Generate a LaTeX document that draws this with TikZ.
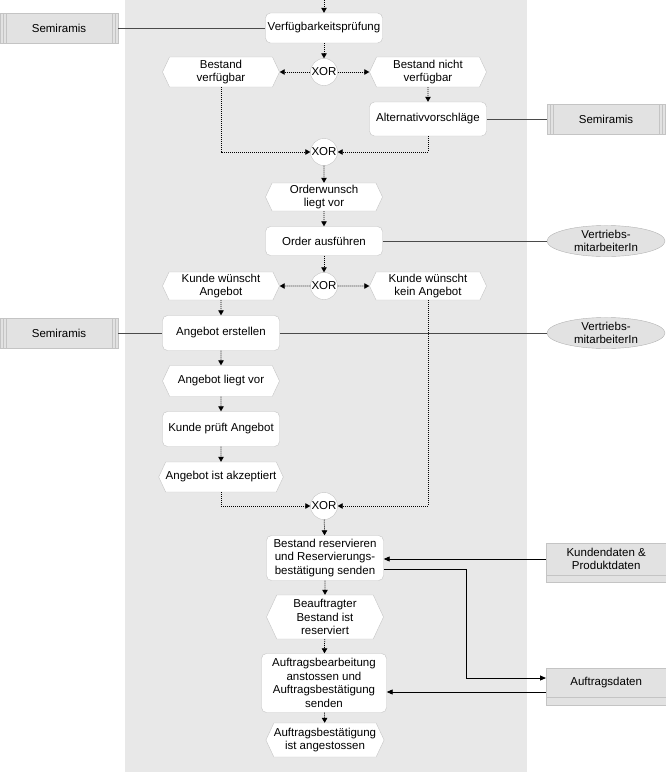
\documentclass[tikz,border=0pt]{standalone}
\usepackage{fontspec}
\setmainfont{Liberation Sans}
\usetikzlibrary{arrows.meta,positioning,shapes.geometric,shapes.symbols}
\definecolor{pane}{HTML}{E8E8E8}
\definecolor{boxline}{HTML}{C4C4C4}
\definecolor{sysfill}{HTML}{E2E2E2}
\definecolor{link}{HTML}{4A4A4A}

\begin{document}
\begin{tikzpicture}[x=1pt,y=-1pt,
  font=\fontsize{11.5}{13.5}\selectfont,
  fn/.style={draw=boxline,fill=white,rounded corners=5pt,align=center,
             minimum width=117pt,inner sep=1pt},
  ev/.style={signal,signal to=west and east,signal pointer angle=130,
             draw=boxline,fill=white,align=center,minimum width=117pt,
             inner xsep=0pt,inner ysep=1pt},
  xor/.style={circle,draw=boxline,fill=white,minimum size=27pt,inner sep=0pt},
  sys/.style={draw=boxline,fill=sysfill,minimum width=118pt,minimum height=30pt,
              path picture={
                \foreach \d in {3,6}{
                  \draw[boxline] ([xshift=\d pt]path picture bounding box.north west)
                    -- ([xshift=\d pt]path picture bounding box.south west);
                  \draw[boxline] ([xshift=-\d pt]path picture bounding box.north east)
                    -- ([xshift=-\d pt]path picture bounding box.south east);}}},
  org/.style={ellipse,draw=gray!60,fill=sysfill,minimum width=118pt,
              minimum height=30pt,inner sep=0pt,align=center},
  dat/.style={draw=boxline,fill=sysfill,minimum width=120pt,anchor=west,align=center},
  band/.style={draw=boxline,fill=sysfill},
  cf/.style={-{Triangle[length=5pt,width=5.5pt]},line width=0.75pt,
             dash pattern=on 1pt off 1pt},
  ln/.style={link,line width=0.8pt},
  df/.style={-{Triangle[length=6pt,width=5pt]},black,line width=0.9pt}]
  \useasboundingbox (0,0) rectangle (665,772);
  \fill[pane] (125,0) rectangle (527,772);
  % process chain
  \coordinate (start) at (324,0);
  \node[fn,minimum height=30pt] (vp) at (324,28) {Verfügbarkeitsprüfung};
  \node[xor] (x1) at (324,72) {XOR};
  \node[ev,minimum height=30pt] (bv) at (221,72) {Bestand\\verfügbar};
  \node[ev,minimum height=30pt] (bnv) at (428,72) {Bestand nicht\\verfügbar};
  \node[fn,minimum height=34pt] (alt) at (428,119) {Alternativvorschläge};
  \node[xor] (x2) at (324,152) {XOR};
  \node[ev,minimum height=28pt] (ow) at (324,197) {Orderwunsch\\liegt vor};
  \node[fn,minimum height=29pt] (oa) at (324,241) {Order ausführen};
  \node[xor] (x3) at (324,286) {XOR};
  \node[ev,minimum height=28pt] (kwa) at (221,286) {Kunde wünscht\\Angebot};
  \node[ev,minimum height=28pt] (kwk) at (428,286) {Kunde wünscht\\kein Angebot};
  \node[fn,minimum height=35pt] (ae) at (221,333) {Angebot erstellen};
  \node[ev,minimum height=31pt] (alv) at (221,381) {Angebot liegt vor};
  \node[fn,minimum height=35pt] (kpa) at (221,429) {Kunde prüft Angebot};
  \node[ev,minimum height=30pt] (aia) at (221,477) {Angebot ist akzeptiert};
  \node[xor] (x4) at (324,506) {XOR};
  \node[fn,minimum height=45pt] (brs) at (325,558) {Bestand reservieren\\und Reservierungs-\\bestätigung senden};
  \node[ev,minimum height=44pt] (bbr) at (325,617) {Beauftragter\\Bestand ist\\reserviert};
  \node[fn,minimum height=59pt,minimum width=125pt] (aab) at (324,683) {Auftragsbearbeitung\\anstossen und\\Auftragsbestätigung\\senden};
  \node[ev,minimum height=34pt] (aba) at (325,740) {Auftragsbestätigung\\ist angestossen};
  % systems, roles, data
  \node[sys] (sem1) at (59,28) {Semiramis};
  \node[sys] (sem2) at (606,119) {Semiramis};
  \node[sys] (sem3) at (59,333) {Semiramis};
  \node[org] (vm1) at (606,241) {Vertriebs-\\mitarbeiterIn};
  \node[org] (vm2) at (606,333) {Vertriebs-\\mitarbeiterIn};
  \node[dat,minimum height=32pt] (kd) at (546,559) {Kundendaten \&\\Produktdaten};
  \draw[band] (kd.south west) rectangle ([yshift=-7pt]kd.south east);
  \node[dat,minimum height=29pt] (ad) at (546,682.5) {Auftragsdaten};
  \draw[band] (ad.south west) rectangle ([yshift=-8pt]ad.south east);
  % control flow
  \draw[cf] (start) -- (vp);
  \draw[cf] (vp) -- (x1);
  \draw[cf] (x1) -- (bv);
  \draw[cf] (x1) -- (bnv);
  \draw[cf] (bnv) -- (alt);
  \draw[cf] (bv) |- (x2);
  \draw[cf] (alt) |- (x2);
  \draw[cf] (x2) -- (ow);
  \draw[cf] (ow) -- (oa);
  \draw[cf] (oa) -- (x3);
  \draw[cf] (x3) -- (kwa);
  \draw[cf] (x3) -- (kwk);
  \draw[cf] (kwa) -- (ae);
  \draw[cf] (ae) -- (alv);
  \draw[cf] (alv) -- (kpa);
  \draw[cf] (kpa) -- (aia);
  \draw[cf] (aia) |- (x4);
  \draw[cf] (kwk) |- (x4);
  \draw[cf] (x4) -- (brs);
  \draw[cf] (brs) -- (bbr);
  \draw[cf] (bbr) -- (aab);
  \draw[cf] (aab) -- (aba);
  % assignments
  \draw[ln] (sem1) -- (vp);
  \draw[ln] (alt) -- (sem2);
  \draw[ln] (oa) -- (vm1);
  \draw[ln] (sem3) -- (ae);
  \draw[ln] (ae) -- (vm2);
  \draw[df] (kd.west) -- (kd.west -| brs.east);
  \draw[df] ([yshift=-11pt]brs.east) -| ([xshift=-80pt,yshift=4.5pt]ad.west) -- ([yshift=4.5pt]ad.west);
  \draw[df] ([yshift=-9.5pt]ad.west) -- ([yshift=-9.5pt]ad.west -| aab.east);
\end{tikzpicture}
\end{document}
